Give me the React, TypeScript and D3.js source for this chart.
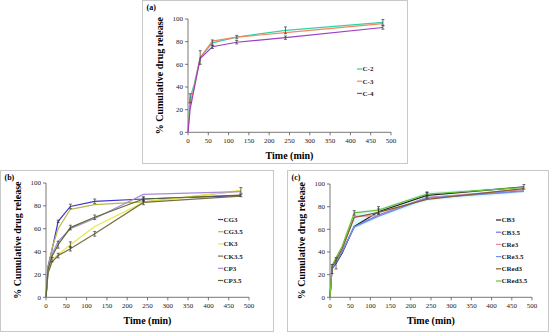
import React from "react"
import * as d3 from "d3"

// sampling times (min)
const times = [0, 5, 15, 30, 60, 120, 240, 480]
const xTicks = [0, 50, 100, 150, 200, 250, 300, 350, 400, 450, 500]
const yTicks = [0, 20, 40, 60, 80, 100]

// panel (a)
const aNames = ["C-2", "C-3", "C-4"]
const aColors = ["#2ed3a8", "#f5875f", "#9b3fc4"]
const c2 = [0, 30, 42, 66, 79, 84, 90, 97]
const c3 = [0, 25, 40, 66, 80.5, 84, 88, 96]
const c4 = [0, 20, 38, 65, 75.5, 79.5, 83.5, 92.5]
const c2Err = [0, 4, 0, 6, 2.5, 1.5, 3, 2.5]
const c4Err = [0, 0, 0, 0, 1.5, 1.5, 1.5, 1.5]

// panel (b)
const bNames = ["CG3", "CG3.5", "CK3", "CK3.5", "CP3", "CP3.5"]
const bColors = ["#3b35d0", "#b8b84a", "#e8e84a", "#7a6e45", "#a98ad8", "#5a6a2a"]
const cg3 = [0, 27, 42, 66.5, 79.5, 84, 86, 89]
const cg35 = [0, 25, 43, 60, 77, 81, 83.5, 93]
const ck3 = [0, 22, 33, 37.5, 46, 62, 83, 93.5]
const ck35 = [0, 21, 31, 36.5, 42.5, 55.5, 83, 88.5]
const cp3 = [0, 25, 38, 49, 60, 69, 90, 92.5]
const cp35 = [0, 24, 36, 46, 61, 70, 86, 89.5]
const cg3Err = [0, 0, 0, 1, 2, 2, 1, 1]
const ck3Err = [0, 0, 2, 0, 2.5, 0, 0, 2.5]
const cp35Err = [0, 0, 0, 3, 2, 2, 2, 0]
const ck35Err = [0, 0, 0, 2, 2, 2, 2, 0]

// panel (c)
const cNames = ["CB3", "CB3.5", "CRe3", "CRe3.5", "CRed3", "CRed3.5"]
const cColors = ["#222222", "#7a6ee0", "#e48aa6", "#6d8ff0", "#8a5a2a", "#6cc23a"]
const cb3 = [0, 25, 30, 39, 62.5, 75.5, 90, 97.5]
const cb35 = [0, 26, 31, 40, 62, 72.5, 88, 94]
const cre3 = [0, 26, 32, 42, 71.5, 72, 88, 95]
const cre35 = [0, 25, 31, 40.5, 62, 71.5, 87.5, 93.5]
const cred3 = [0, 27, 33, 43, 70.5, 75, 86.5, 96]
const cred35 = [0, 28, 35, 45, 74.5, 77, 91, 97]
const cb3Err = [0, 4, 5, 0, 0, 2.5, 2.5, 2]
const cred35Err = [0, 0, 0, 0, 2, 3, 2, 0]
// faint shaded spread in (c)
const cLow = [0, 25, 30, 39, 60, 70, 85, 92]
const cHigh = [0, 28, 35, 45, 76, 78, 93, 98]

type Series = { name: string; color: string; values: number[]; err?: number[] }

interface PanelProps {
  label: string
  frame: [number, number, number, number]
  plot: [number, number, number, number] // left, top, right, bottom
  series: Series[]
  legend: [number, number]
  band?: [number[], number[]]
}

const serif = "'Liberation Serif', 'Times New Roman', serif"

function Panel(props: PanelProps) {
  const [pl, pt, pr, pb] = props.plot
  const x = d3.scaleLinear().domain([0, 500]).range([pl, pr])
  const y = d3.scaleLinear().domain([0, 100]).range([pb, pt])
  const line = d3.line<number>().x((d, i) => x(times[i])).y((d) => y(d))
  const [fx, fy, fw, fh] = props.frame
  const axisColor = "#555"

  let bandPath: string | null = null
  if (props.band) {
    const [lo, hi] = props.band
    bandPath = d3.area<number>()
      .x((d, i) => x(times[i]))
      .y0((d, i) => y(lo[i]))
      .y1((d) => y(d))(hi)
  }

  return (
    <g>
      <rect x={fx} y={fy} width={fw} height={fh} fill="#fff" stroke="#c8c8c8" strokeWidth={1} />
      <text x={fx + 4} y={fy + 9} fontFamily={serif} fontWeight="bold" fontSize={8}>{props.label}</text>
      {bandPath && <path d={bandPath} fill="#d6f6fb" opacity={0.8} />}
      {/* axes */}
      <line x1={pl} x2={pl} y1={pt} y2={pb} stroke={axisColor} strokeWidth={0.8} />
      <line x1={pl} x2={pr} y1={pb} y2={pb} stroke={axisColor} strokeWidth={0.8} />
      {yTicks.map((t) => (
        <g key={"y" + t}>
          <line x1={pl - 3} x2={pl} y1={y(t)} y2={y(t)} stroke={axisColor} strokeWidth={0.8} />
          <text x={pl - 5} y={y(t)} dy="0.35em" textAnchor="end" fontFamily={serif} fontSize={7} fill="#222">{t}</text>
        </g>
      ))}
      {xTicks.map((t) => (
        <g key={"x" + t}>
          <line x1={x(t)} x2={x(t)} y1={pb} y2={pb + 3} stroke={axisColor} strokeWidth={0.8} />
          <text x={x(t)} y={pb + 11} textAnchor="middle" fontFamily={serif} fontSize={7} fill="#222">{t}</text>
        </g>
      ))}
      <text x={(pl + pr) / 2} y={pb + 27} textAnchor="middle" fontFamily={serif} fontWeight="bold" fontSize={10}>Time (min)</text>
      <text transform={`translate(${pl - 29},${(pt + pb) / 2}) rotate(-90)`} textAnchor="middle" dy="0.35em"
        fontFamily={serif} fontWeight="bold" fontSize={10}>% Cumulative drug release</text>
      {/* lines */}
      {props.series.map((s) => (
        <path key={s.name} d={line(s.values) || ""} fill="none" stroke={s.color} strokeWidth={1.2} />
      ))}
      {/* error bars */}
      {props.series.map((s) => s.err && s.err.map((e, i) => e > 0 && (
        <g key={s.name + "e" + i} stroke="#333" strokeWidth={0.7}>
          <line x1={x(times[i])} x2={x(times[i])} y1={y(s.values[i] - e)} y2={y(s.values[i] + e)} />
          <line x1={x(times[i]) - 1.5} x2={x(times[i]) + 1.5} y1={y(s.values[i] - e)} y2={y(s.values[i] - e)} />
          <line x1={x(times[i]) - 1.5} x2={x(times[i]) + 1.5} y1={y(s.values[i] + e)} y2={y(s.values[i] + e)} />
        </g>
      )))}
      {/* legend */}
      {props.series.map((s, i) => {
        const ly = props.legend[1] + i * 12.2
        return (
          <g key={"l" + s.name}>
            <line x1={props.legend[0]} x2={props.legend[0] + 5} y1={ly} y2={ly} stroke={s.color} strokeWidth={1.2} />
            <text x={props.legend[0] + 5.5} y={ly} dy="0.35em" fontFamily={serif} fontWeight="bold" fontSize={7} fill="#222">{s.name}</text>
          </g>
        )
      })}
    </g>
  )
}

export default function App() {
  const aSeries: Series[] = [
    { name: aNames[0], color: aColors[0], values: c2, err: c2Err },
    { name: aNames[1], color: aColors[1], values: c3 },
    { name: aNames[2], color: aColors[2], values: c4, err: c4Err },
  ]
  const bVals = [cg3, cg35, ck3, ck35, cp3, cp35]
  const bErr = [cg3Err, undefined, ck3Err, ck35Err, undefined, cp35Err]
  const bSeries: Series[] = bNames.map((n, i) => ({ name: n, color: bColors[i], values: bVals[i], err: bErr[i] }))
  const cVals = [cb3, cb35, cre3, cre35, cred3, cred35]
  const cErr = [cb3Err, undefined, undefined, undefined, undefined, cred35Err]
  const cSeries: Series[] = cNames.map((n, i) => ({ name: n, color: cColors[i], values: cVals[i], err: cErr[i] }))

  return (
    <svg width={550} height={336} style={{ position: "absolute", left: 0, top: 0, background: "#fff" }}>
      <Panel label="(a)" frame={[142.5, 0.5, 265, 163]} plot={[188, 19, 391, 132.3]} series={aSeries} legend={[357, 69]} />
      <Panel label="(b)" frame={[0.5, 170.5, 273, 161]} plot={[46, 183, 249, 297.3]} series={bSeries} legend={[218, 219.5]} />
      <Panel label="(c)" frame={[287.5, 170.5, 261, 161]} plot={[330, 184, 532, 297.3]} series={cSeries} legend={[496, 220]}
        band={[cLow, cHigh]} />
    </svg>
  )
}
